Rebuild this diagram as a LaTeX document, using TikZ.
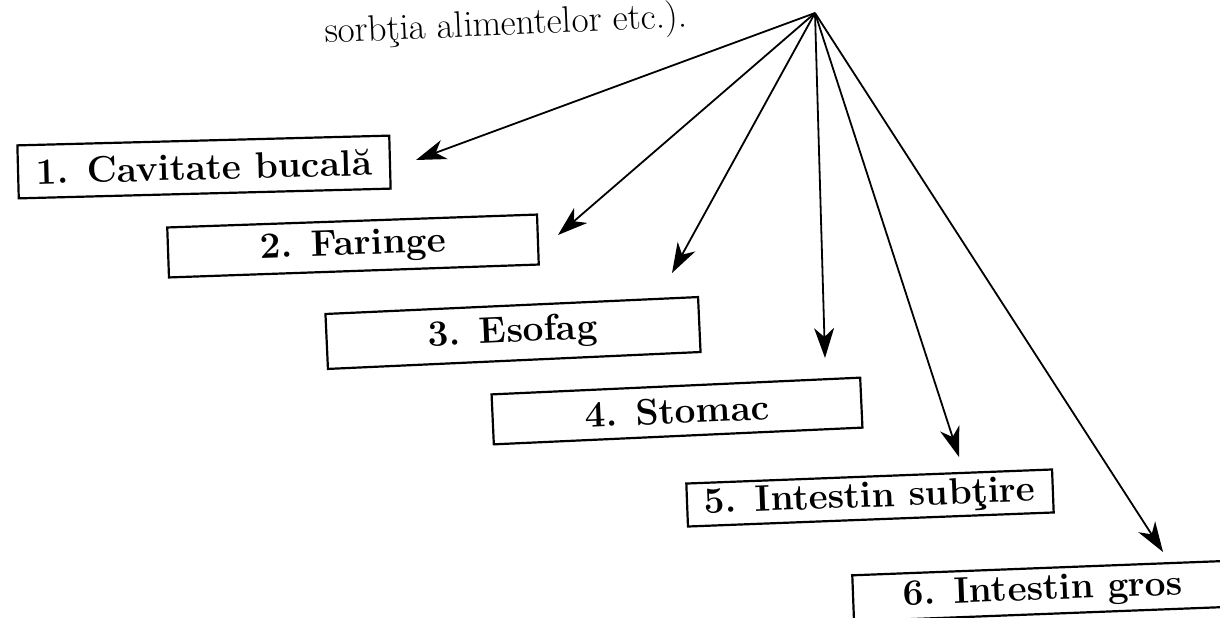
\documentclass[tikz,border=0pt]{standalone}
\usetikzlibrary{arrows.meta}
\begin{document}
\begin{tikzpicture}[x=1pt,y=-1pt,
  organbox/.style={draw,line width=2.2pt,inner sep=0pt,minimum height=#1,
    font=\fontsize{37}{40}\selectfont\bfseries},
  organbox/.default=52pt,
  pointer/.style={line width=1.8pt,-{Stealth[length=30pt,width=20pt,inset=9pt]}}]
\useasboundingbox (0,0) rectangle (1220,618);
\clip (0,0) rectangle (1220,618);
\fill[white] (0,0) rectangle (1220,618);
% top text
\node[anchor=base west,inner sep=0pt,rotate=2.5,font=\fontsize{37}{40}\selectfont] (top) at (325,43) {sorbţia alimentelor etc.).};
% source point
\coordinate (src) at (815,13);
% boxes
\node[organbox=53pt,minimum width=372pt,rotate=1.5] (b1) at (204,167) {1. Cavitate bucală};
\node[organbox=50pt,minimum width=370pt,rotate=2] (b2) at (353,246) {2. Faringe};
\node[organbox=55pt,minimum width=373pt,rotate=2.6] (b3) at (513,333) {3. Esofag};
\node[organbox=50pt,minimum width=369pt,rotate=2.6] (b4) at (677,411) {4. Stomac};
\node[organbox=43pt,minimum width=366pt,rotate=2.2] (b5) at (870,498) {5. Intestin subţire};
\node[organbox=46pt,minimum width=380pt,rotate=2.2] (b6) at (1043,591) {6. Intestin gros};
% arrow tips
\coordinate (t1) at (416,160);
\coordinate (t2) at (558,235);
\coordinate (t3) at (672,273);
\coordinate (t4) at (825,358);
\coordinate (t5) at (959,457);
\coordinate (t6) at (1163,552);
\foreach \t in {t1,t2,t3,t4,t5,t6}
  \draw[pointer] (src) -- (\t);
\end{tikzpicture}
\end{document}
